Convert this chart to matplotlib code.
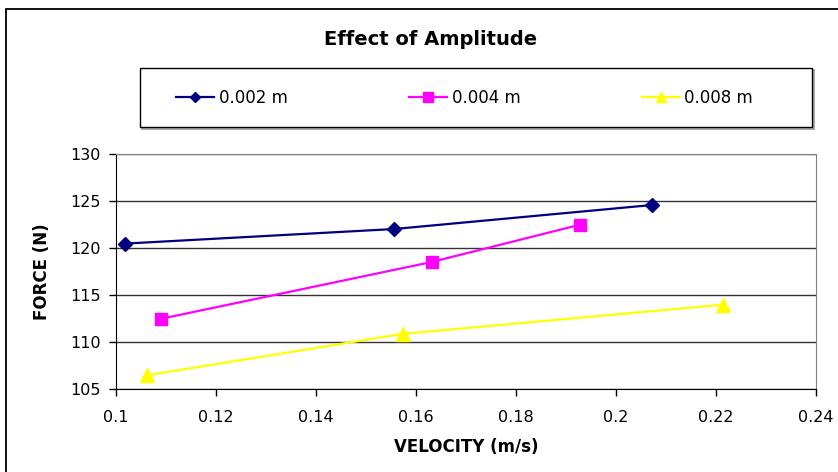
import matplotlib.pyplot as plt
from matplotlib.patches import Rectangle

plt.rcParams["font.family"] = ["DejaVu Sans"]

# velocity (m/s) vs force (N) for each amplitude
vel_002 = [0.1018, 0.1556, 0.2071]
force_002 = [120.5, 122.05, 124.6]
vel_004 = [0.1090, 0.1632, 0.1927]
force_004 = [112.5, 118.55, 122.5]
vel_008 = [0.1063, 0.1574, 0.2213]
force_008 = [106.5, 110.9, 114.0]
labels = ["0.002 m", "0.004 m", "0.008 m"]

x_ticks = [0.1, 0.12, 0.14, 0.16, 0.18, 0.2, 0.22, 0.24]
x_tick_labels = ["0.1", "0.12", "0.14", "0.16", "0.18", "0.2", "0.22", "0.24"]
y_ticks = [105, 110, 115, 120, 125, 130]

W, H = 838, 472
fig = plt.figure(figsize=(W / 100, H / 100), dpi=100)

# chart area border (runs past the right and bottom edges)
fig.patches.append(Rectangle((6 / W, -0.1), 1.2, 1 - 9 / H + 0.1,
                             transform=fig.transFigure, fill=False,
                             edgecolor="black", linewidth=1.3))

ax = fig.add_axes([116 / W, 1 - 389.3 / H, 700 / W, 235 / H])

ax.plot(vel_002, force_002, color="#000080", marker="D", markersize=7,
        linewidth=1.6, label=labels[0])
ax.plot(vel_004, force_004, color="#FF00FF", marker="s", markersize=9,
        linewidth=1.6, label=labels[1])
ax.plot(vel_008, force_008, color="#FFFF00", marker="^", markersize=10,
        linewidth=1.6, label=labels[2])

ax.set_xlim(0.1, 0.24)
ax.set_ylim(105, 130)
ax.set_xticks(x_ticks)
ax.set_xticklabels(x_tick_labels)
ax.set_yticks(y_ticks)
ax.tick_params(labelsize=11.5, direction="out", length=5, width=1)
ax.tick_params(axis="x", pad=10)
ax.tick_params(axis="y", pad=6)
ax.yaxis.grid(True, color="#333333", linewidth=1)
ax.set_axisbelow(True)

for side in ["top", "right"]:
    ax.spines[side].set_color("#808080")
for side in ["left", "bottom"]:
    ax.spines[side].set_color("black")

ax.set_xlabel("VELOCITY (m/s)", fontsize=12, fontweight="bold", labelpad=9)
ax.set_ylabel("FORCE (N)", fontsize=12, fontweight="bold", labelpad=14)

fig.text(431 / W, 1 - 39.5 / H, "Effect of Amplitude", ha="center",
         va="center", fontsize=14, fontweight="bold")

# legend box with a light shadow, entries placed inside it without their own frame
fig.patches.append(Rectangle((142 / W, 1 - 129 / H), 672 / W, 59 / H,
                             transform=fig.transFigure, fill=False,
                             edgecolor="#999999", linewidth=1.2))
fig.patches.append(Rectangle((140 / W, 1 - 127 / H), 672 / W, 59 / H,
                             transform=fig.transFigure, facecolor="white",
                             edgecolor="black", linewidth=1))
leg = fig.legend(loc="center left", ncol=3, bbox_to_anchor=(176 / W, 1 - 98 / H),
                 frameon=False, fontsize=12, handlelength=2.3,
                 handletextpad=0.25, columnspacing=7.3, borderpad=0,
                 borderaxespad=0, markerscale=0.75)

fig.savefig("out.png", dpi=100)
